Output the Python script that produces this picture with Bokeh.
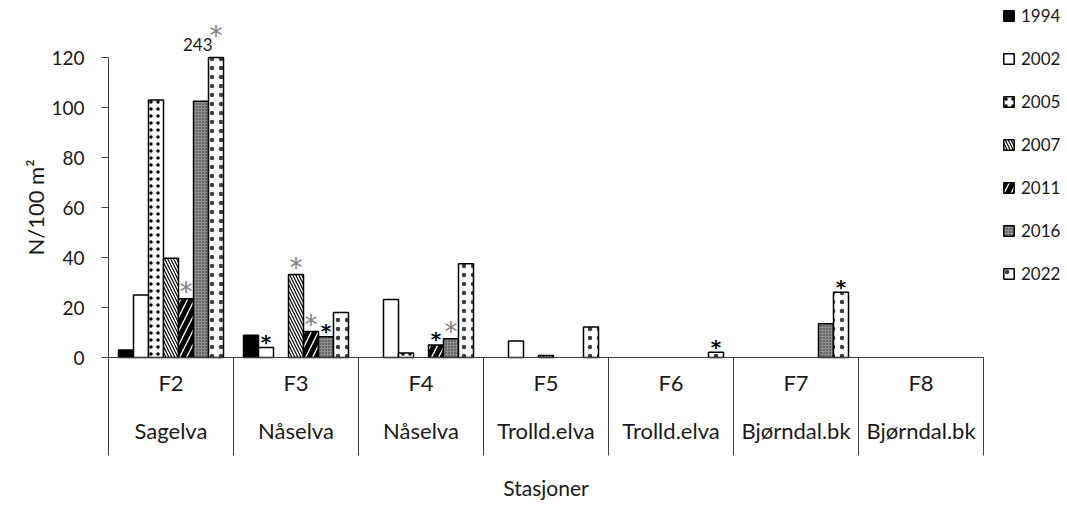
import math
from bokeh.plotting import figure
from bokeh.models import Range1d, FixedTicker, Legend, LegendItem, ColumnDataSource, LinearAxis
from bokeh.core.properties import value
from bokeh.embed import file_html
from bokeh.resources import INLINE

# ---------------- data ----------------
stations = ["F2", "F3", "F4", "F5", "F6", "F7", "F8"]
rivers = ["Sagelva", "Nåselva", "Nåselva", "Trolld.elva", "Trolld.elva", "Bjørndal.bk", "Bjørndal.bk"]
years = ["1994", "2002", "2005", "2007", "2011", "2016", "2022"]
d1994 = [3, 8.9, 0, 0, 0, 0, 0]
d2002 = [25, 4, 23.2, 6.6, 0, 0, 0]
d2005 = [103, 0, 1.8, 0, 0, 0, 0]
d2007 = [39.7, 33.2, 0, 0.8, 0, 0, 0]
d2011 = [23.5, 10.4, 5, 0, 0, 0, 0]
d2016 = [102.5, 8.3, 7.5, 0, 0, 13.5, 0]
d2022 = [243, 18, 37.5, 12.2, 2.1, 26.1, 0]
y_ticks = [0, 20, 40, 60, 80, 100, 120]
star_station = ["F2", "F2", "F3", "F3", "F3", "F3", "F4", "F4", "F6", "F7"]
star_year = ["2011", "2022", "2002", "2007", "2011", "2016", "2011", "2016", "2022", "2022"]
star_grey = [True, True, False, True, True, False, False, True, False, False]
y_title = "N/100 m²"
x_title = "Stasjoner"

series = [d1994, d2002, d2005, d2007, d2011, d2016, d2022]

# ---------------- styles ----------------
FONT = "Lato"
STAR_FONT = "DejaVu Sans"
TXT = "#1a1a1a"
styles = [
    dict(fill_color="black"),
    dict(fill_color="white"),
    dict(fill_color="white", hatch_pattern="dot", hatch_scale=7, hatch_weight=4.5, hatch_color="black"),
    dict(fill_color="white", hatch_pattern="left_diagonal_line", hatch_scale=6, hatch_weight=1.2, hatch_color="black"),
    dict(fill_color="white", hatch_pattern="right_diagonal_line", hatch_scale=14, hatch_weight=5, hatch_color="black"),
    dict(fill_color="#8f8f8f", hatch_pattern="dot", hatch_scale=3, hatch_weight=1.4, hatch_color="#2a2a2a"),
    dict(fill_color="white", hatch_pattern="dot", hatch_scale=9, hatch_weight=1.2, hatch_color="#404040"),
]

y_max = y_ticks[-1]
bar_w = 0.12
n = len(stations)
W, H = 1067, 505
X0, Y0, PX_X, PX_Y = 108, 357, 125, 2.5   # pixel position of origin and pixels per unit

p = figure(width=W, height=H, output_backend="svg", toolbar_location=None,
           x_range=Range1d(-X0 / PX_X, (W - X0) / PX_X),
           y_range=Range1d(-(H - Y0) / PX_Y, Y0 / PX_Y),
           x_axis_location=None, y_axis_location=None,
           min_border_left=0, min_border_right=0, min_border_top=0, min_border_bottom=0)
p.xgrid.visible = False
p.ygrid.visible = False
p.outline_line_color = None

def xpos(si, yi):
    return si + 0.5 + (yi - 3) * bar_w

items = []
for yi, (yr, vals) in enumerate(zip(years, series)):
    xs, tops = [], []
    for si, v in enumerate(vals):
        if v > 0:
            xs.append(xpos(si, yi))
            tops.append(min(v, y_max))
    src = ColumnDataSource(dict(x=xs, top=tops))
    r = p.vbar(x="x", top="top", bottom=0, width=bar_w, source=src,
               line_color="black", line_width=1.5, **styles[yi])
    items.append(LegendItem(label=yr, renderers=[r]))

# clipped value labels
for yi, vals in enumerate(series):
    for si, v in enumerate(vals):
        if v > y_max:
            p.text(x=[xpos(si, yi) - 0.028], y=[y_max + 5.2], text=[str(int(v))],
                   text_font=value(FONT), text_font_size="17px", text_color=TXT,
                   text_align="right", text_baseline="middle")

# stars
for st, yr, grey in zip(star_station, star_year, star_grey):
    si = stations.index(st)
    yi = years.index(yr)
    v = series[yi][si]
    if v > y_max:
        ys = y_max + 8.8
    else:
        ys = v + (2.6 if grey else 2.3)
    p.text(x=[xpos(si, yi)], y=[ys], text=["*"], text_font=value(STAR_FONT),
           text_font_size="26px" if grey else "20px",
           text_color="#7f7f7f" if grey else "black",
           text_font_style="normal" if grey else "bold",
           text_align="center", text_baseline="alphabetic")

# baseline axis & separators
p.segment(x0=[0], y0=[0], x1=[n], y1=[0], line_color="#404040", line_width=1)
p.segment(x0=list(range(n + 1)), y0=[0] * (n + 1), x1=list(range(n + 1)), y1=[-39.2] * (n + 1),
          line_color="#404040", line_width=1)

# category labels
cx = [i + 0.5 for i in range(n)]
p.text(x=cx, y=[-10] * n, text=stations, text_font=value(FONT), text_font_size="22px",
       text_color=TXT, text_align="center", text_baseline="middle")
p.text(x=cx, y=[-29.2] * n, text=rivers, text_font=value(FONT), text_font_size="22px",
       text_color=TXT, text_align="center", text_baseline="middle")
p.text(x=[n / 2], y=[-52], text=[x_title], text_font=value(FONT), text_font_size="21px",
       text_color=TXT, text_align="center", text_baseline="middle")

# y axis title
p.text(x=[(35 - X0) / PX_X], y=[60], text=[y_title], angle=math.pi / 2,
       text_font=value(FONT), text_font_size="22px", text_color=TXT,
       text_align="center", text_baseline="middle")

# y axis (drawn at x = 0)
ax = LinearAxis(fixed_location=0, bounds=(0, y_max), ticker=FixedTicker(ticks=y_ticks))
ax.major_tick_out = 7
ax.major_tick_in = 0
ax.minor_tick_line_color = None
ax.axis_line_color = "#404040"
ax.major_tick_line_color = "#404040"
ax.major_label_text_font = FONT
ax.major_label_text_font_size = "19px"
ax.major_label_text_color = TXT
ax.major_label_standoff = 17
p.add_layout(ax, "left")

legend = Legend(items=items, location=(1002, 221), orientation="vertical",
                glyph_width=13, glyph_height=13, label_height=20, label_standoff=6,
                spacing=22, padding=0, margin=0, border_line_color=None,
                background_fill_alpha=0, label_text_font=FONT,
                label_text_font_size="17px", label_text_color=TXT)
p.add_layout(legend)

open("out.html", "w").write(file_html(p, INLINE))
